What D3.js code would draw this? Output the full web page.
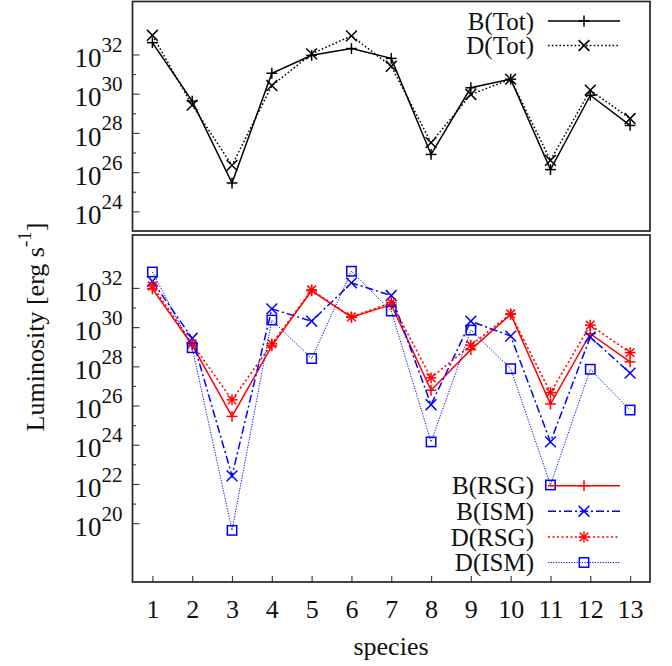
<!DOCTYPE html>
<html>
<head>
<meta charset="utf-8">
<script src="https://cdn.jsdelivr.net/npm/d3@7"></script>
<style>
  html, body { margin: 0; padding: 0; background: #fff; }
  svg { display: block; }
  svg text { font-family: "Liberation Serif", "Times New Roman", Times, serif; fill: #111; }
</style>
</head>
<body>
<svg id="chart" width="672" height="666"></svg>
<script>
// ---------- data ----------
const species = [1, 2, 3, 4, 5, 6, 7, 8, 9, 10, 11, 12, 13];
const xTickLabels = ["1","2","3","4","5","6","7","8","9","10","11","12","13"];

// top panel (erg s^-1)
const bTot = [4.0e32, 4.2e29, 2.8e25, 1.1e31, 9.0e31, 2.0e32, 6.3e31, 8.0e26, 2.0e30, 5.5e30, 1.35e26, 8.3e29, 2.4e28];
const dTot = [9.5e32, 2.6e29, 2.2e26, 2.6e30, 1.07e32, 8.9e32, 2.5e31, 3.2e27, 9.1e29, 5.5e30, 4.0e26, 1.5e30, 5.4e28];

// bottom panel (erg s^-1)
const bRSG = [8.9e31, 1.2e29, 2.8e25, 1.1e29, 7.1e31, 3.2e30, 1.4e31, 6.0e26, 7.1e28, 4.5e30, 1.2e26, 4.6e29, 1.7e28];
const bISM = [2.2e32, 2.7e29, 2.6e22, 8.5e30, 2.0e30, 1.8e32, 4.1e31, 1.1e26, 2.0e30, 3.5e29, 1.4e24, 3.1e29, 4.5e27];
const dRSG = [1.26e32, 1.4e29, 1.95e26, 1.4e29, 7.9e31, 3.3e30, 1.8e31, 2.6e27, 1.2e29, 4.7e30, 4.6e26, 1.26e30, 5.0e28];
const dISM = [6.5e32, 8.9e28, 4.3e19, 2.3e30, 2.5e28, 7.1e32, 6.6e30, 1.4e24, 7.1e29, 7.6e27, 8.9e21, 7.1e27, 5.9e25];

const topMajorExp = [24, 26, 28, 30, 32];
const topMinorExp = [25, 27, 29, 31];
const botMajorExp = [20, 22, 24, 26, 28, 30, 32];
const botMinorExp = [21, 23, 25, 27, 29, 31];

const topLegend = ["B(Tot)", "D(Tot)"];
const botLegend = ["B(RSG)", "B(ISM)", "D(RSG)", "D(ISM)"];

// ---------- layout ----------
const svg = d3.select("#chart");
const L = 132.5, R = 650;
const topP = { y0: 1.5, y1: 231 };
const botP = { y0: 235, y1: 582 };

const x = d3.scaleLinear().domain([0.5, 13.5]).range([L, R]);
const yTop = d3.scaleLog().domain([1e23, 5e34]).range([topP.y1, topP.y0]);
const yBot = d3.scaleLog().domain([1e17, 5e34]).range([botP.y1, botP.y0]);

const FRAME = "#262626";

function marker(g, type, cx, cy, color) {
  const s = 5.4;
  const m = g.append("g").attr("transform", `translate(${cx},${cy})`)
    .attr("stroke", color).attr("stroke-width", 1.5).attr("fill", "none");
  if (type === "plus" || type === "star") {
    m.append("line").attr("x1", -s).attr("x2", s).attr("y1", 0).attr("y2", 0);
    m.append("line").attr("x1", 0).attr("x2", 0).attr("y1", -s).attr("y2", s);
  }
  if (type === "cross" || type === "star") {
    const c = type === "star" ? s * 0.8 : s;
    m.append("line").attr("x1", -c).attr("x2", c).attr("y1", -c).attr("y2", c);
    m.append("line").attr("x1", -c).attr("x2", c).attr("y1", c).attr("y2", -c);
  }
  if (type === "square") {
    m.append("rect").attr("x", -4.7).attr("y", -4.7).attr("width", 9.4).attr("height", 9.4);
  }
}

function yAxis(y, majorExp, minorExp) {
  const g = svg.append("g").attr("transform", `translate(${L},0)`);
  const ax = d3.axisLeft(y)
    .tickValues(majorExp.map(e => Math.pow(10, e)))
    .tickSize(-7).tickPadding(10).tickFormat(() => "");
  g.call(ax);
  g.select(".domain").remove();
  g.selectAll(".tick line").attr("stroke", "#444").attr("stroke-width", 1.2);
  g.selectAll(".tick text").each(function(d, i) {
    const t = d3.select(this).attr("dy", "0.45em").attr("font-size", 27).attr("fill", "#111");
    t.append("tspan").text("10");
    t.append("tspan").attr("font-size", 21).attr("dy", "-0.72em").text(String(majorExp[i]));
  });
  const gm = svg.append("g").attr("transform", `translate(${L},0)`);
  gm.call(d3.axisLeft(y).tickValues(minorExp.map(e => Math.pow(10, e))).tickSize(-3.5).tickFormat(() => ""));
  gm.select(".domain").remove();
  gm.selectAll(".tick line").attr("stroke", "#444").attr("stroke-width", 1.2);
}

function series(y, values, color, dash, width, mtype) {
  const line = d3.line().x((d, i) => x(species[i])).y(d => y(d));
  svg.append("path").datum(values)
    .attr("d", line).attr("fill", "none")
    .attr("stroke", color).attr("stroke-width", width)
    .attr("stroke-dasharray", dash);
  const g = svg.append("g");
  values.forEach((v, i) => marker(g, mtype, x(species[i]), y(v), color));
}

function legendEntry(label, ly, color, dash, width, mtype) {
  svg.append("text").attr("x", 534).attr("y", ly).attr("dy", "0.34em")
    .attr("text-anchor", "end").attr("font-size", 25).text(label);
  svg.append("line").attr("x1", 548).attr("x2", 620).attr("y1", ly).attr("y2", ly)
    .attr("stroke", color).attr("stroke-width", width).attr("stroke-dasharray", dash);
  marker(svg.append("g"), mtype, 584, ly, color);
}

// ---------- top panel ----------
yAxis(yTop, topMajorExp, topMinorExp);
series(yTop, bTot, "#000", null, 1.5, "plus");
series(yTop, dTot, "#000", "1.6,2.2", 1.5, "cross");
legendEntry(topLegend[0], 21, "#000", null, 1.5, "plus");
legendEntry(topLegend[1], 45.5, "#000", "1.6,2.2", 1.5, "cross");
svg.append("rect").attr("x", L).attr("y", topP.y0).attr("width", R - L).attr("height", topP.y1 - topP.y0)
  .attr("fill", "none").attr("stroke", FRAME).attr("stroke-width", 1.7);

// ---------- bottom panel ----------
yAxis(yBot, botMajorExp, botMinorExp);
const gx = svg.append("g").attr("transform", `translate(0,${botP.y1})`);
gx.call(d3.axisBottom(x).tickValues(species).tickSize(-6).tickPadding(14)
  .tickFormat((d, i) => xTickLabels[i]));
gx.select(".domain").remove();
gx.selectAll(".tick line").attr("stroke", "#444").attr("stroke-width", 1.2);
gx.selectAll(".tick text").attr("font-size", 26).attr("fill", "#111").attr("dy", "0.85em");

series(yBot, bRSG, "#ff0000", null, 1.5, "plus");
series(yBot, bISM, "#0000ff", "8,3,2,3", 1.5, "cross");
series(yBot, dRSG, "#ff0000", "2,2.5", 1.6, "star");
series(yBot, dISM, "#0000ff", "1.2,1.4", 1, "square");

legendEntry(botLegend[0], 485.7, "#ff0000", null, 1.5, "plus");
legendEntry(botLegend[1], 511.2, "#0000ff", "8,3,2,3", 1.5, "cross");
legendEntry(botLegend[2], 537, "#ff0000", "2,2.5", 1.6, "star");
legendEntry(botLegend[3], 562.5, "#0000ff", "1.2,1.4", 1, "square");

svg.append("rect").attr("x", L).attr("y", botP.y0).attr("width", R - L).attr("height", botP.y1 - botP.y0)
  .attr("fill", "none").attr("stroke", FRAME).attr("stroke-width", 1.7);

// ---------- axis titles ----------
const yl = svg.append("text").attr("transform", "translate(44,327) rotate(-90)")
  .attr("text-anchor", "middle").attr("font-size", 26);
yl.append("tspan").text("Luminosity [erg s");
yl.append("tspan").attr("font-size", 19).attr("dy", "-0.7em").text("-1");
yl.append("tspan").attr("dy", "0.51em").text("]");

svg.append("text").attr("x", 391).attr("y", 655).attr("text-anchor", "middle")
  .attr("font-size", 26).text("species");
</script>
</body>
</html>
